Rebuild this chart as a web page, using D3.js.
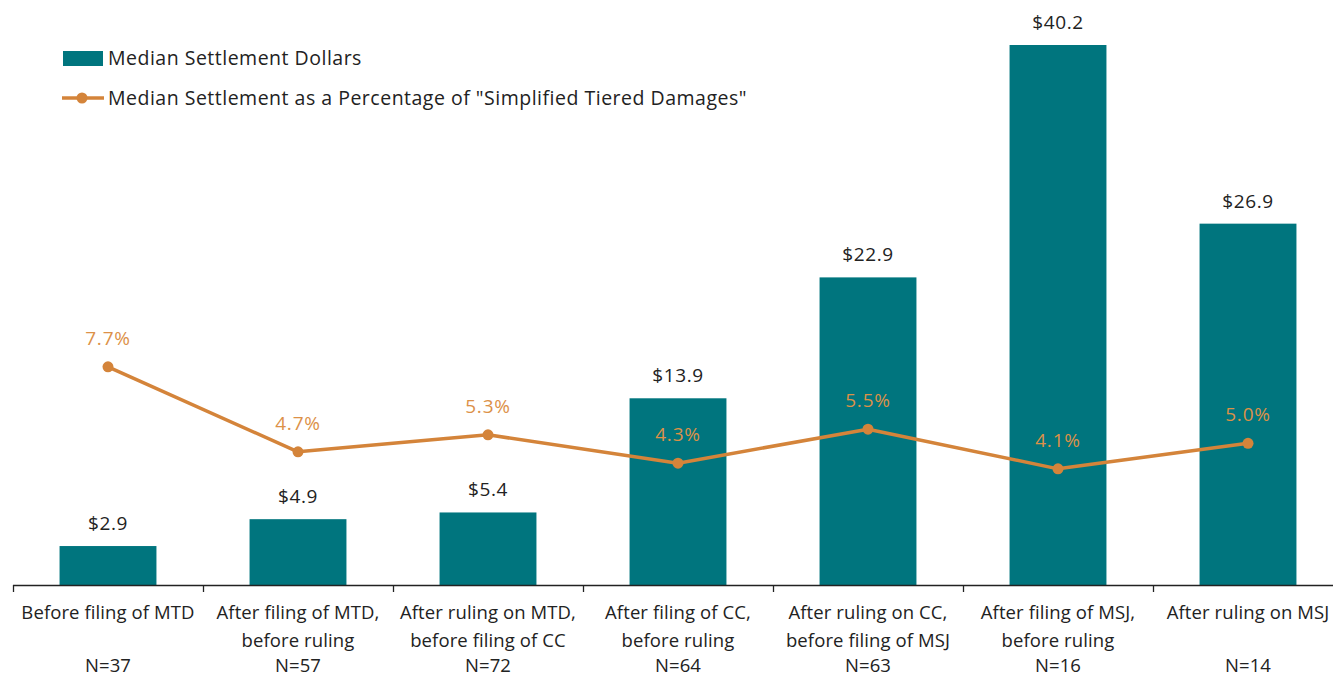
<!DOCTYPE html>
<html>
<head>
<meta charset="utf-8">
<script src="https://cdn.jsdelivr.net/npm/d3@7"></script>
<style>
  body { margin: 0; background: #fff; }
  text { font-family: "Open Sans", "Noto Sans", sans-serif; }
</style>
</head>
<body>
<svg id="chart" width="1333" height="676"></svg>
<script>
var categories = [
  ["Before filing of MTD"],
  ["After filing of MTD,", "before ruling"],
  ["After ruling on MTD,", "before filing of CC"],
  ["After filing of CC,", "before ruling"],
  ["After ruling on CC,", "before filing of MSJ"],
  ["After filing of MSJ,", "before ruling"],
  ["After ruling on MSJ"]
];
var counts = [37, 57, 72, 64, 63, 16, 14];
var dollars = [2.9, 4.9, 5.4, 13.9, 22.9, 40.2, 26.9];
var percents = [7.7, 4.7, 5.3, 4.3, 5.5, 4.1, 5.0];

var teal = "#00757e", orange = "#d4843a", pctColor = "#dc9148";

var svg = d3.select("#chart"),
    width = +svg.attr("width"),
    height = +svg.attr("height");

var base = 585;

var x = d3.scaleBand()
    .domain(d3.range(categories.length))
    .range([13, 13 + 190 * 7])
    .paddingInner(0.49)
    .paddingOuter(0.245);

var y = d3.scaleLinear().domain([0, 40.2]).range([base, 45]);
var y2 = d3.scaleLinear().domain([0, 20]).range([base, base - 20 * 28.33]);

// bars
svg.selectAll(".bar")
    .data(dollars)
    .enter().append("rect")
    .attr("class", "bar")
    .attr("x", function(d, i) { return x(i); })
    .attr("y", function(d) { return y(d); })
    .attr("width", x.bandwidth())
    .attr("height", function(d) { return base - y(d); })
    .attr("fill", teal);

svg.selectAll(".bar-label")
    .data(dollars)
    .enter().append("text")
    .attr("x", function(d, i) { return x(i) + x.bandwidth() / 2; })
    .attr("y", function(d) { return y(d) - 16; })
    .attr("text-anchor", "middle")
    .attr("font-size", 19)
    .attr("letter-spacing", 0.6)
    .attr("fill", "#222")
    .text(function(d) { return "$" + d.toFixed(1); });

// axis
var step = 190;
var axisG = svg.append("g");
axisG.append("line")
    .attr("x1", 13).attr("x2", width)
    .attr("y1", base + 0.5).attr("y2", base + 0.5)
    .attr("stroke", "#222").attr("stroke-width", 1.3);
axisG.selectAll(".tick")
    .data(d3.range(categories.length + 1))
    .enter().append("line")
    .attr("x1", function(d) { return 13.5 + d * step; })
    .attr("x2", function(d) { return 13.5 + d * step; })
    .attr("y1", base).attr("y2", base + 7)
    .attr("stroke", "#222").attr("stroke-width", 1.3);

var labels = svg.selectAll(".cat")
    .data(categories)
    .enter().append("text")
    .attr("text-anchor", "middle")
    .attr("font-size", 18.5)
    .attr("letter-spacing", 0.1)
    .attr("fill", "#222");
labels.each(function(lines, i) {
  var t = d3.select(this);
  var cx = x(i) + x.bandwidth() / 2;
  lines.forEach(function(l, j) {
    t.append("tspan").attr("x", cx).attr("y", 619 + j * 28).text(l);
  });
  t.append("tspan").attr("x", cx).attr("y", 672).text("N=" + counts[i]);
});

// line
var line = d3.line()
    .x(function(d, i) { return x(i) + x.bandwidth() / 2; })
    .y(function(d) { return y2(d); });

svg.append("path")
    .datum(percents)
    .attr("d", line)
    .attr("fill", "none")
    .attr("stroke", orange)
    .attr("stroke-width", 3.5)
    .attr("stroke-linejoin", "round");

svg.selectAll(".dot")
    .data(percents)
    .enter().append("circle")
    .attr("cx", function(d, i) { return x(i) + x.bandwidth() / 2; })
    .attr("cy", function(d) { return y2(d); })
    .attr("r", 5.5)
    .attr("fill", orange);

svg.selectAll(".pct-label")
    .data(percents)
    .enter().append("text")
    .attr("x", function(d, i) { return x(i) + x.bandwidth() / 2; })
    .attr("y", function(d) { return y2(d) - 22; })
    .attr("text-anchor", "middle")
    .attr("font-size", 19)
    .attr("letter-spacing", 0.8)
    .attr("fill", pctColor)
    .text(function(d) { return d.toFixed(1) + "%"; });

// legend
var leg = svg.append("g");
leg.append("rect")
    .attr("x", 63).attr("y", 51).attr("width", 40).attr("height", 15)
    .attr("fill", teal);
leg.append("text")
    .attr("x", 108).attr("y", 65)
    .attr("font-size", 19.5)
    .attr("letter-spacing", 0.5)
    .attr("fill", "#222")
    .text("Median Settlement Dollars");
leg.append("line")
    .attr("x1", 62).attr("x2", 104).attr("y1", 98).attr("y2", 98)
    .attr("stroke", orange).attr("stroke-width", 3.5);
leg.append("circle")
    .attr("cx", 82).attr("cy", 98).attr("r", 5.5)
    .attr("fill", orange);
leg.append("text")
    .attr("x", 108).attr("y", 105)
    .attr("font-size", 19.5)
    .attr("letter-spacing", 0.5)
    .attr("fill", "#222")
    .text("Median Settlement as a Percentage of \"Simplified Tiered Damages\"");
</script>
</body>
</html>
